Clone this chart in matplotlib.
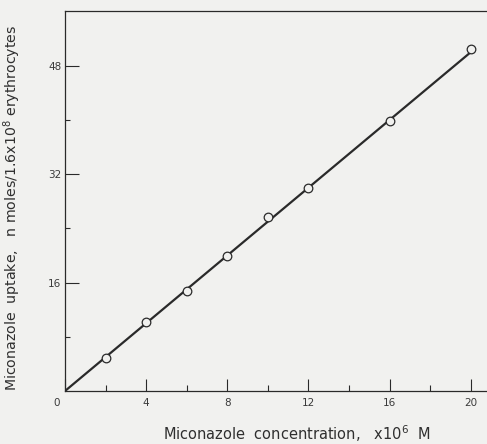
import numpy as np
import matplotlib
matplotlib.use("Agg")
import matplotlib.pyplot as plt
import matplotlib.transforms as mtransforms

# miconazole concentration (x10^-6 M) and uptake (nmoles / 1.6x10^8 erythrocytes)
conc = [2, 4, 6, 8, 10, 12, 16, 20]
uptake = [4.8, 10.2, 14.8, 19.9, 25.7, 29.9, 39.9, 50.4]
fit_x = [0, 20]
fit_y = [0, 50]

x_major = [0, 4, 8, 12, 16, 20]
x_minor = [2, 6, 10, 14, 18]
y_major = [16, 32, 48]
y_minor = [8, 24, 40]

bg = '#f1f1ef'
ink = '#2a2a2a'

fig = plt.figure(figsize=(4.87, 4.44), dpi=100, facecolor=bg)
ax = fig.add_axes([65/487, 53/444, 422/487, 379.5/444], facecolor=bg)

ax.plot(fit_x, fit_y, color=ink, linewidth=1.6, zorder=2)
ax.plot(conc, uptake, linestyle='none', marker='o', markersize=6.2,
        markerfacecolor=bg, markeredgecolor=ink, markeredgewidth=0.9, zorder=3)

ax.set_xlim(0, 20.8)
ax.set_ylim(0, 56)

ax.set_xticks(x_major)
ax.set_xticks(x_minor, minor=True)
ax.set_yticks(y_major)
ax.set_yticks(y_minor, minor=True)

ax.tick_params(axis='x', which='major', direction='in', length=8.5, width=0.8,
               color=ink, labelsize=7.5, labelcolor='#3a3a3a', pad=5)
ax.tick_params(axis='x', which='minor', direction='in', length=4.3, width=0.8, color=ink)
ax.tick_params(axis='y', which='major', direction='in', length=10, width=0.8,
               color=ink, labelsize=7.5, labelcolor='#3a3a3a', pad=2.5)
ax.tick_params(axis='y', which='minor', direction='in', length=3.8, width=0.8, color=ink)

# the "0" sits just left of the corner
zero = ax.get_xticklabels()[0]
zero.set_transform(zero.get_transform() +
                   mtransforms.ScaledTranslation(-8/100, 0, fig.dpi_scale_trans))

for side in ['left', 'bottom', 'top']:
    ax.spines[side].set_color(ink)
    ax.spines[side].set_linewidth(0.9)
ax.spines['right'].set_visible(False)

ax.set_xlabel('Miconazole  concentration,   x10$^6$  M', fontsize=10.5, color='#2f2f2f')
ax.set_ylabel('Miconazole  uptake,   n moles/1.6x10$^8$ erythrocytes', fontsize=10.2,
              color='#2f2f2f')
ax.xaxis.set_label_coords(0.549, -0.085)
ax.yaxis.set_label_coords(-0.100, 0.482)

plt.savefig('out.png', dpi=100, facecolor=bg)
